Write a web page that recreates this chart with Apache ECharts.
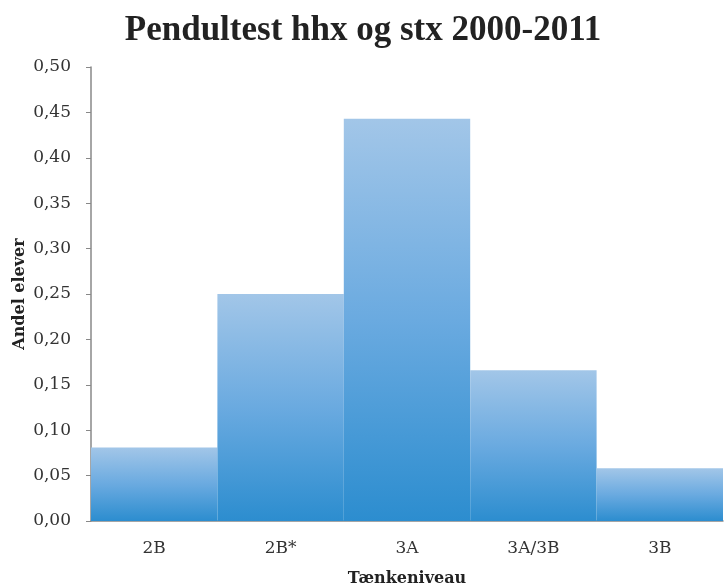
<!DOCTYPE html>
<html><head><meta charset="utf-8">
<script src="https://cdn.jsdelivr.net/npm/echarts@6/dist/echarts.min.js"></script>
<style>html,body{margin:0;padding:0;background:#fff}#c{width:726px;height:588px}</style>
</head><body><div id="c"></div>
<script>
const categories = ['2B', '2B*', '3A', '3A/3B', '3B'];
const values = [0.081, 0.250, 0.443, 0.166, 0.058];
const yTicks = { min: 0, max: 0.5, interval: 0.05 };

const titleFont = 'Liberation Serif';
const font = 'DejaVu Serif';
const chart = echarts.init(document.getElementById('c'));
chart.setOption({
  animation: false,
  title: {
    text: 'Pendultest hhx og stx 2000-2011',
    left: 'center', top: 8,
    textStyle: { fontFamily: titleFont, fontWeight: 'bold', fontSize: 35, color: '#222' }
  },
  grid: { left: 91, right: 3, top: 67, bottom: 67, containLabel: false, outerBoundsMode: 'none' },
  xAxis: {
    type: 'category', data: categories,
    name: 'Tænkeniveau', nameLocation: 'middle', nameGap: 50,
    nameTextStyle: { fontFamily: font, fontWeight: 'bold', fontSize: 16, color: '#222' },
    axisLine: { lineStyle: { color: '#888', width: 1.5 } },
    axisTick: { show: false },
    axisLabel: { fontFamily: font, fontSize: 17, color: '#333', margin: 19 }
  },
  yAxis: {
    type: 'value', min: yTicks.min, max: yTicks.max, interval: yTicks.interval,
    name: 'Andel elever', nameLocation: 'middle', nameGap: 63, nameRotate: 90,
    nameMoveOverlap: false,
    nameTextStyle: { fontFamily: font, fontWeight: 'bold', fontSize: 16, color: '#222' },
    splitLine: { show: false },
    axisLine: { show: true, lineStyle: { color: '#888', width: 1.5 } },
    axisTick: { show: true, length: 5, lineStyle: { color: '#888' } },
    axisLabel: {
      fontFamily: font, fontSize: 17, color: '#333', margin: 20,
      formatter: v => v.toFixed(2).replace('.', ',')
    }
  },
  series: [{
    type: 'bar', data: values, barCategoryGap: '0%',
    itemStyle: {
      color: new echarts.graphic.LinearGradient(0, 0, 0, 1, [
        { offset: 0, color: '#a2c6e8' },
        { offset: 0.5, color: '#6aaae0' },
        { offset: 1, color: '#2c8dcf' }
      ])
    }
  }]
});
</script></body></html>
